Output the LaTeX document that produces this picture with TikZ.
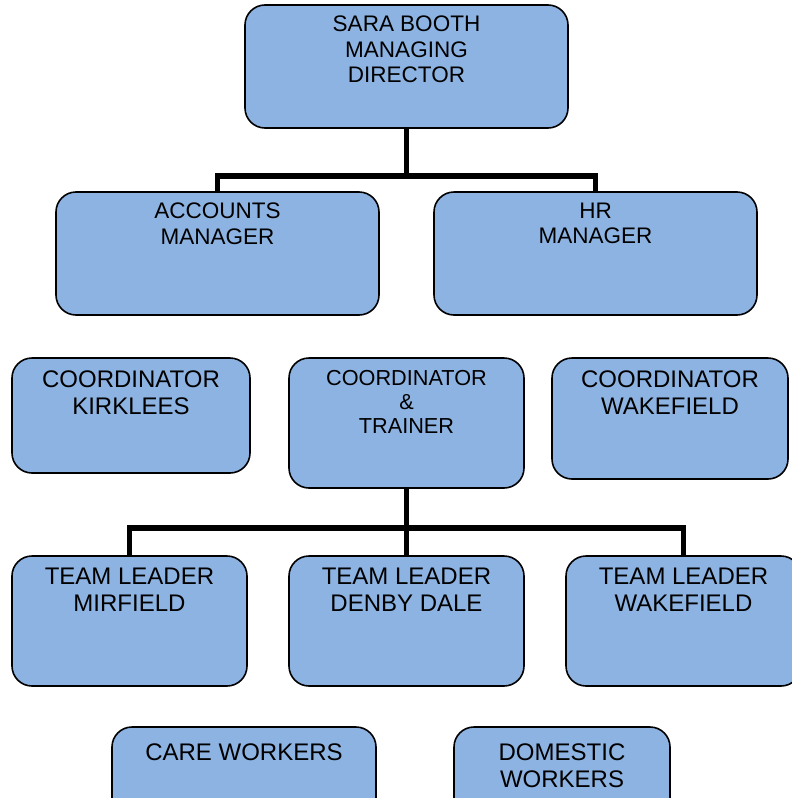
\documentclass[tikz,border=0pt]{standalone}
\usepackage{fontspec}
\setmainfont{Liberation Sans}
\definecolor{postblue}{HTML}{8DB3E2}
\tikzset{
    post/.style={draw=black, fill=postblue, line width=1.6pt, rounded corners=20pt, inner sep=0pt, font=\fontsize{22.5}{25.5}\selectfont},
    bigpost/.style={post, font=\fontsize{24}{27}\selectfont},
    smallpost/.style={post, font=\fontsize{21.7}{24}\selectfont},
    link/.style={draw=black, line width=5.5pt},
}
% width, height, top gap, text
\newcommand{\posttext}[4]{\parbox[c][#2pt][t]{#1pt}{\vspace*{#3pt}\centering\selectfont #4}}

\begin{document}
\begin{tikzpicture}[x=1pt, y=-1pt]
    \useasboundingbox (0,0) rectangle (792,798);
    \clip (0,0) rectangle (792,798);
    % management
    \node[post] (director) at (406.5,66.5) {\posttext{323}{123}{11}{SARA BOOTH\\MANAGING\\DIRECTOR}};
    \node[post] (accounts) at (217.5,253.5) {\posttext{323}{123}{11}{ACCOUNTS\\MANAGER}};
    \node[post] (hr) at (595.5,253.5) {\posttext{323}{123}{11}{HR\\MANAGER}};
    % coordinators
    \node[bigpost] (kirklees) at (131,415.5) {\posttext{238}{115}{12.5}{COORDINATOR\\KIRKLEES}};
    \node[smallpost] (trainer) at (406.5,423) {\posttext{235}{130}{12}{COORDINATOR\\\&\\TRAINER}};
    \node[bigpost] (wakefield) at (670,418.5) {\posttext{236}{121}{12.5}{COORDINATOR\\WAKEFIELD}};
    % team leaders
    \node[bigpost] (mirfield) at (129.5,621) {\posttext{235}{130}{12}{TEAM LEADER\\MIRFIELD}};
    \node[bigpost] (denby) at (406.5,621) {\posttext{235}{130}{12}{TEAM LEADER\\DENBY DALE}};
    \node[bigpost] (tlwake) at (683.5,621) {\posttext{235}{130}{12}{TEAM LEADER\\WAKEFIELD}};
    % workers
    \node[bigpost] (care) at (244,778) {\posttext{264}{102}{17}{CARE WORKERS}};
    \node[bigpost] (domestic) at (562,778) {\posttext{216}{102}{17}{DOMESTIC\\WORKERS}};
    % lines
    \draw[link] (director.south) |- ([yshift=15pt]accounts.north) -- (accounts.north);
    \draw[link] (director.south) |- ([yshift=15pt]hr.north) -- (hr.north);
    \draw[link] (trainer.south) |- ([yshift=27pt]mirfield.north) -- (mirfield.north);
    \draw[link] (trainer.south) -- (denby.north);
    \draw[link] (trainer.south) |- ([yshift=27pt]tlwake.north) -- (tlwake.north);
\end{tikzpicture}
\end{document}
